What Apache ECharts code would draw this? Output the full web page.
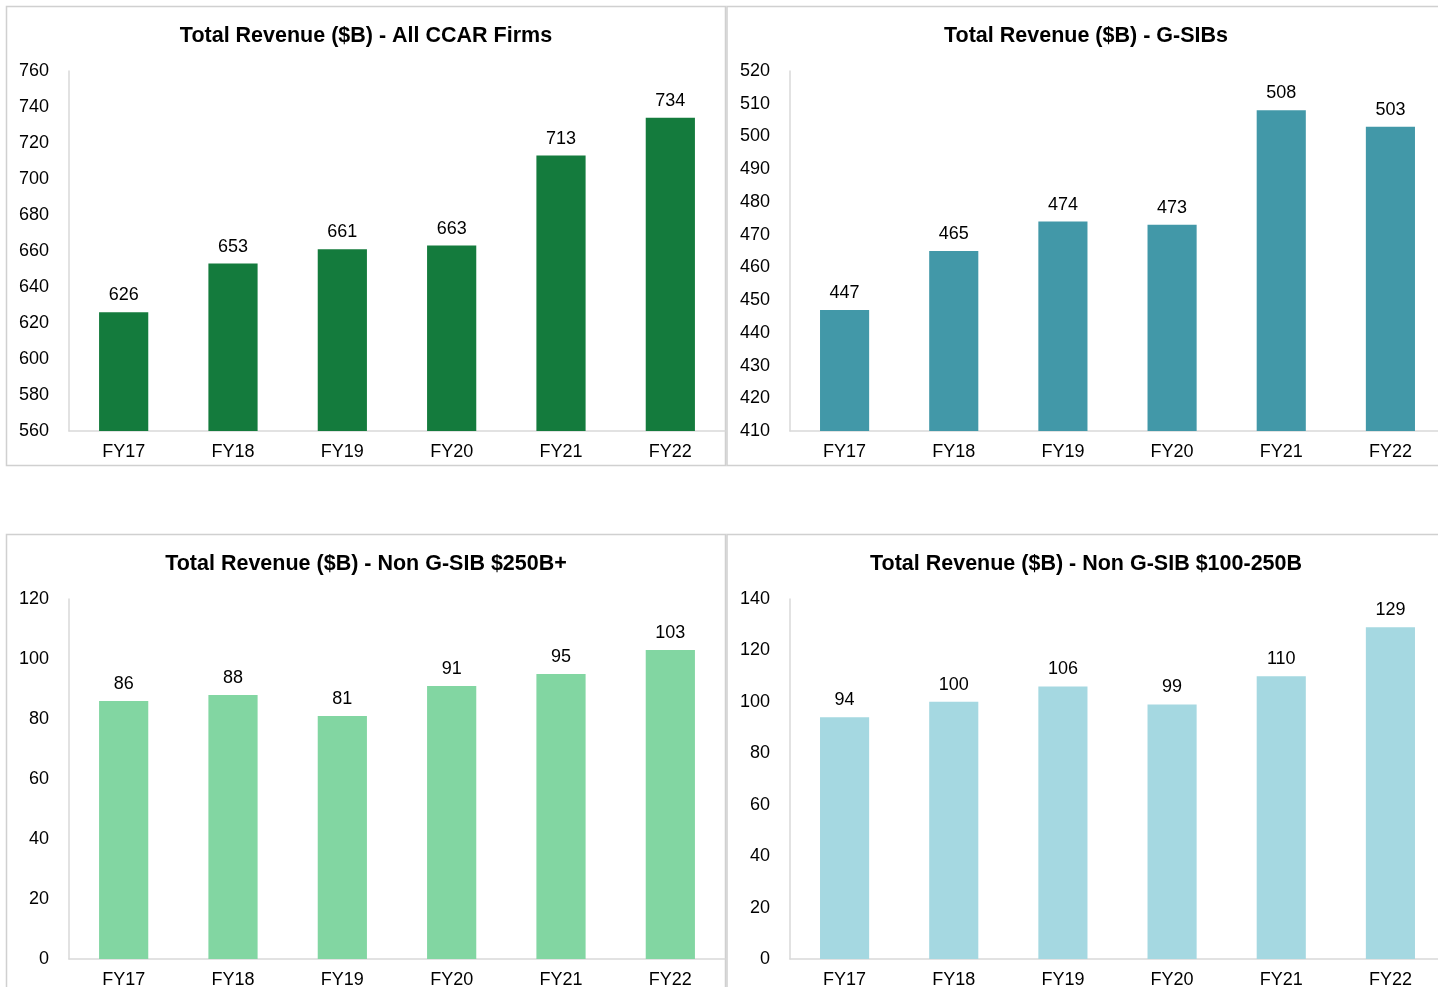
<!DOCTYPE html>
<html>
<head>
<meta charset="utf-8">
<script src="https://cdn.jsdelivr.net/npm/echarts@6/dist/echarts.min.js"></script>
<style>
html,body{margin:0;padding:0;background:#fff;overflow:hidden;width:1438px;height:987px;}
#chart{width:1438px;height:987px;}
</style>
</head>
<body>
<div id="chart"></div>
<script>
const categories = ['FY17','FY18','FY19','FY20','FY21','FY22'];
const allCcar = [626, 653, 661, 663, 713, 734];
const gsibs = [447, 465, 474, 473, 508, 503];
const nonGsib250 = [86, 88, 81, 91, 95, 103];
const nonGsib100 = [94, 100, 106, 99, 110, 129];
const titles = [
  'Total Revenue ($B) - All CCAR Firms',
  'Total Revenue ($B) - G-SIBs',
  'Total Revenue ($B) - Non G-SIB $250B+',
  'Total Revenue ($B) - Non G-SIB $100-250B'
];
const seriesData = [allCcar, gsibs, nonGsib250, nonGsib100];
const colors = ['#147B3D', '#4298A8', '#82D6A2', '#A5D8E1'];
const yRanges = [[560, 760, 20], [410, 520, 10], [0, 120, 20], [0, 140, 20]];

const FONT = '"Liberation Sans", Arial, sans-serif';
const grids = [
  {left: 69, top: 71, width: 656, height: 360},
  {left: 790, top: 71, width: 655, height: 360},
  {left: 69, top: 599, width: 656, height: 360},
  {left: 790, top: 599, width: 655, height: 360}
];
const titleCenters = [[366, 36], [1086, 36], [366, 564], [1086, 564]];

const option = {
  animation: false,
  backgroundColor: '#fff',
  textStyle: {fontFamily: FONT},
  grid: grids.map(g => Object.assign({containLabel: false, outerBoundsMode: 'none'}, g)),
  xAxis: grids.map((g, i) => ({
    type: 'category',
    gridIndex: i,
    data: categories,
    axisLine: {show: true, lineStyle: {color: '#d9d9d9', width: 1.5}},
    axisTick: {show: false},
    axisLabel: {color: '#000', fontSize: 18, fontFamily: FONT, margin: 12}
  })),
  yAxis: grids.map((g, i) => ({
    type: 'value',
    gridIndex: i,
    min: yRanges[i][0],
    max: yRanges[i][1],
    interval: yRanges[i][2],
    splitLine: {show: false},
    axisLine: {show: true, lineStyle: {color: '#d9d9d9', width: 1.5}},
    axisTick: {show: false},
    axisLabel: {color: '#000', fontSize: 18, fontFamily: FONT, margin: 20}
  })),
  series: seriesData.map((d, i) => ({
    type: 'bar',
    xAxisIndex: i,
    yAxisIndex: i,
    data: d,
    barWidth: '45%',
    itemStyle: {color: colors[i]},
    label: {show: true, position: 'top', distance: 8, color: '#000', fontSize: 18, fontFamily: FONT}
  })),
  graphic: [
    {type: 'rect', shape: {x: 6.5, y: 6.5, width: 719, height: 459}, style: {fill: 'none', stroke: '#d0d0d0', lineWidth: 1.5}, silent: true},
    {type: 'rect', shape: {x: 727, y: 6.5, width: 730, height: 459}, style: {fill: 'none', stroke: '#d0d0d0', lineWidth: 1.5}, silent: true},
    {type: 'rect', shape: {x: 6.5, y: 534.5, width: 719, height: 480}, style: {fill: 'none', stroke: '#d0d0d0', lineWidth: 1.5}, silent: true},
    {type: 'rect', shape: {x: 727, y: 534.5, width: 730, height: 480}, style: {fill: 'none', stroke: '#d0d0d0', lineWidth: 1.5}, silent: true}
  ].concat(titles.map((t, i) => ({
    type: 'text',
    x: titleCenters[i][0],
    y: titleCenters[i][1],
    silent: true,
    style: {
      text: t,
      align: 'center',
      verticalAlign: 'middle',
      fill: '#000',
      font: 'bold 21.5px "Liberation Sans", Arial, sans-serif'
    }
  })))
};
const chart = echarts.init(document.getElementById('chart'), null, {renderer: 'canvas'});
chart.setOption(option);
</script>
</body>
</html>
